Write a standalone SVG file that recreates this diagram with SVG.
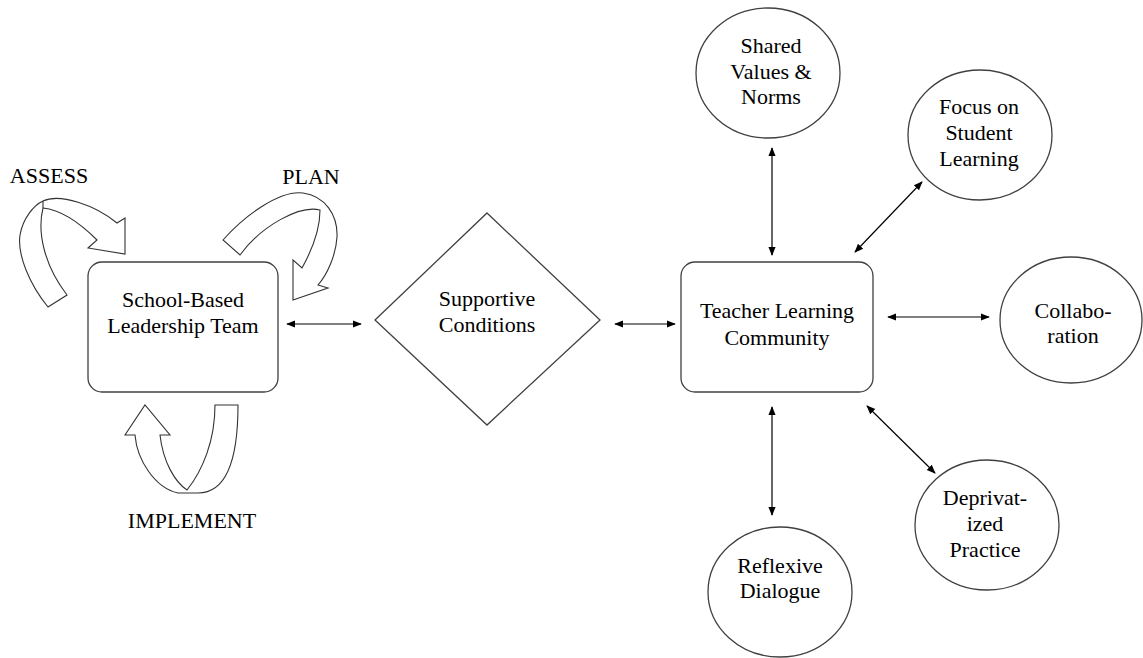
<svg xmlns="http://www.w3.org/2000/svg" width="1143" height="658" viewBox="0 0 1143 658" font-family="'Liberation Serif', 'Times New Roman', serif">
<style>
.shape{fill:#fff;stroke:#404040;stroke-width:1.3}
.ribbon{fill:#fff;stroke:#333;stroke-width:1.1;stroke-linejoin:miter}
.conn{stroke:#000;stroke-width:1.2;fill:none;marker-start:url(#ah);marker-end:url(#ah)}
.t{font-family:'Liberation Serif','Times New Roman',serif;font-size:22px;fill:#000;text-anchor:middle}
</style>
<defs>
<marker id="ah" viewBox="0 0 10 10" refX="9" refY="5" markerWidth="9" markerHeight="9" markerUnits="userSpaceOnUse" orient="auto-start-reverse">
<path d="M0,1 L10,5 L0,9 Z" fill="#000"/>
</marker>
</defs>
<rect width="1143" height="658" fill="#fff"/>

<g id="cycle-arrows">
<path id="assess-arrow" class="ribbon" d="M48,307 C30,285 17,255 20,235 C23,218 34,205 43,201 C60,193 95,205 117,223 L125,218 L125,254 L88,248 L97,240 C80,223 62,210 43,208 C37,232 44,265 67,295 Z"/>
<path class="ribbon" d="M43,208 L43,201" fill="none"/>
<path id="plan-arrow" class="ribbon" d="M223,240 C245,215 280,190 303,193 C325,196 338,215 337,237 C336,255 327,275 318,285 L328,288 L293,300 L293,260 L302,268 C312,250 320,228 320,210 C300,205 262,225 240,255 Z"/>
<path id="implement-arrow" class="ribbon" d="M215,405 L238,405 C238,455 228,493 198,493 L178,493 C155,488 137,460 135,435 L125,435 L145,405 L170,435 L160,435 C163,462 175,482 187,490 C203,470 215,440 215,405 Z"/>
</g>

<g id="labels">
<text class="t" x="49" y="183">ASSESS</text>
<text class="t" x="311" y="184">PLAN</text>
<text class="t" x="192" y="528">IMPLEMENT</text>
</g>

<g id="leadership-team">
<rect class="shape" x="88" y="262" width="190" height="130" rx="14"/>
<text class="t" x="183" y="307">School-Based</text>
<text class="t" x="183" y="333">Leadership Team</text>
</g>

<g id="supportive-conditions">
<polygon class="shape" points="487,213 600,320 487,425 375,320"/>
<text class="t" x="487" y="306">Supportive</text>
<text class="t" x="487" y="332">Conditions</text>
</g>

<g id="teacher-learning-community">
<rect class="shape" x="681" y="262" width="192" height="130" rx="14"/>
<text class="t" x="777" y="318">Teacher Learning</text>
<text class="t" x="777" y="345">Community</text>
</g>

<g id="shared-values">
<ellipse class="shape" cx="768" cy="73" rx="72" ry="65"/>
<text class="t" x="771" y="53">Shared</text>
<text class="t" x="771" y="79">Values &amp;</text>
<text class="t" x="771" y="104">Norms</text>
</g>

<g id="focus-student-learning">
<ellipse class="shape" cx="980" cy="135" rx="72" ry="65"/>
<text class="t" x="979" y="114">Focus on</text>
<text class="t" x="979" y="140">Student</text>
<text class="t" x="979" y="166">Learning</text>
</g>

<g id="collaboration">
<ellipse class="shape" cx="1071" cy="320" rx="71" ry="63"/>
<text class="t" x="1073" y="318">Collabo-</text>
<text class="t" x="1073" y="343">ration</text>
</g>

<g id="deprivatized-practice">
<ellipse class="shape" cx="987" cy="525" rx="72" ry="65"/>
<text class="t" x="985" y="505">Deprivat-</text>
<text class="t" x="985" y="531">ized</text>
<text class="t" x="985" y="557">Practice</text>
</g>

<g id="reflexive-dialogue">
<ellipse class="shape" cx="780" cy="592" rx="72" ry="65"/>
<text class="t" x="780" y="573">Reflexive</text>
<text class="t" x="780" y="598">Dialogue</text>
</g>

<g id="connectors">
<line class="conn" x1="287" y1="324" x2="361" y2="324"/>
<line class="conn" x1="615" y1="324" x2="675" y2="324"/>
<line class="conn" x1="772" y1="148" x2="772" y2="255"/>
<line class="conn" x1="855" y1="252" x2="922" y2="182"/>
<line class="conn" x1="888" y1="317" x2="989" y2="317"/>
<line class="conn" x1="867" y1="406" x2="935" y2="473"/>
<line class="conn" x1="772" y1="407" x2="772" y2="515"/>
</g>
</svg>
